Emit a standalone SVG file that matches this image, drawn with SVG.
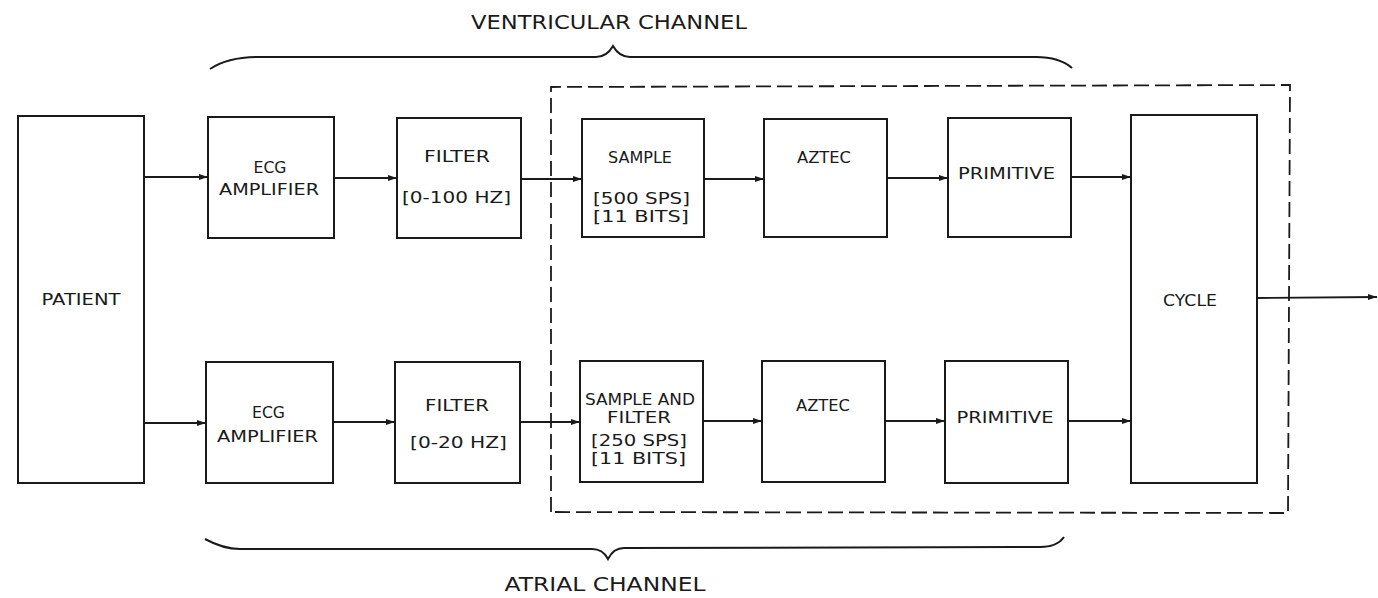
<svg xmlns="http://www.w3.org/2000/svg" width="1378" height="598" viewBox="0 0 1378 598">
<style>
.box{fill:none;stroke:#1a1a1a;stroke-width:2}
.t{font-family:"DejaVu Sans","Liberation Sans",sans-serif;font-size:15px;fill:#1a1a1a;text-anchor:middle}
.title{font-family:"DejaVu Sans","Liberation Sans",sans-serif;font-size:20px;fill:#1a1a1a;text-anchor:middle}
.c{fill:none;stroke:#1a1a1a;stroke-width:1.8}
.dash{fill:none;stroke:#1a1a1a;stroke-width:1.8;stroke-dasharray:15 6}
.brace{fill:none;stroke:#1a1a1a;stroke-width:2}
</style>
<defs>
<marker id="ah" markerWidth="10" markerHeight="8" refX="9" refY="4" orient="auto" markerUnits="userSpaceOnUse">
<path d="M0,1 L9,4 L0,7 Z" fill="#1a1a1a"/>
</marker>
</defs>
<rect width="1378" height="598" fill="#ffffff"/>

<g id="labels">
<text class="title" x="609" y="29" textLength="276" lengthAdjust="spacingAndGlyphs">VENTRICULAR CHANNEL</text>
<text class="title" x="605" y="591" textLength="201" lengthAdjust="spacingAndGlyphs">ATRIAL CHANNEL</text>
</g>

<g id="braces">
<path class="brace" d="M210,69 C222,61 236,57 258,57 L596,57 C604,57 609,53 613,46 C617,53 622,57 630,57 L1036,57 C1052,57 1064,61 1072,68"/>
<path class="brace" d="M205,539 C216,545 226,549 240,549 L592,549 C600,549 605,553 608,559 C611,553 616,548 624,548 L1040,547 C1052,547 1060,543 1064,537"/>
</g>

<g id="dashed-region">
<path class="dash" d="M551,512 L551,87 L1290,85 L1288,513 Z"/>
</g>

<g id="patient">
<rect class="box" x="18" y="116" width="126" height="367"/>
<text class="t" x="81" y="305" textLength="79" lengthAdjust="spacingAndGlyphs">PATIENT</text>
</g>

<g id="ecg-amp-v">
<rect class="box" x="208" y="117" width="126" height="121"/>
<text class="t" x="270" y="172.5" textLength="33" lengthAdjust="spacingAndGlyphs">ECG</text>
<text class="t" x="269" y="195" textLength="100" lengthAdjust="spacingAndGlyphs">AMPLIFIER</text>
</g>

<g id="filter-v">
<rect class="box" x="397" y="118" width="124" height="120"/>
<text class="t" x="457" y="161.5" textLength="66" lengthAdjust="spacingAndGlyphs">FILTER</text>
<text class="t" x="456.5" y="203" textLength="109" lengthAdjust="spacingAndGlyphs">[0-100 HZ]</text>
</g>

<g id="sample-v">
<rect class="box" x="582" y="119" width="122" height="118"/>
<text class="t" x="640" y="162.5" textLength="64" lengthAdjust="spacingAndGlyphs">SAMPLE</text>
<text class="t" x="641.5" y="203.5" textLength="97" lengthAdjust="spacingAndGlyphs">[500 SPS]</text>
<text class="t" x="641" y="221.5" textLength="96" lengthAdjust="spacingAndGlyphs">[11 BITS]</text>
</g>

<g id="aztec-v">
<rect class="box" x="764" y="119" width="123" height="118"/>
<text class="t" x="824" y="162.5" textLength="54" lengthAdjust="spacingAndGlyphs">AZTEC</text>
</g>

<g id="primitive-v">
<rect class="box" x="948" y="118" width="123" height="119"/>
<text class="t" x="1006.5" y="178.5" textLength="97" lengthAdjust="spacingAndGlyphs">PRIMITIVE</text>
</g>

<g id="cycle">
<rect class="box" x="1131" y="115" width="126" height="368"/>
<text class="t" x="1190" y="305.5" textLength="54" lengthAdjust="spacingAndGlyphs">CYCLE</text>
</g>

<g id="ecg-amp-a">
<rect class="box" x="206" y="362" width="127" height="121"/>
<text class="t" x="268.5" y="417.5" textLength="33" lengthAdjust="spacingAndGlyphs">ECG</text>
<text class="t" x="267.5" y="441.5" textLength="101" lengthAdjust="spacingAndGlyphs">AMPLIFIER</text>
</g>

<g id="filter-a">
<rect class="box" x="395" y="362" width="125" height="121"/>
<text class="t" x="457" y="410.5" textLength="64" lengthAdjust="spacingAndGlyphs">FILTER</text>
<text class="t" x="458.5" y="447.5" textLength="97" lengthAdjust="spacingAndGlyphs">[0-20 HZ]</text>
</g>

<g id="sample-filter-a">
<rect class="box" x="580" y="361" width="123" height="121"/>
<text class="t" x="640" y="404.5" textLength="110" lengthAdjust="spacingAndGlyphs">SAMPLE AND</text>
<text class="t" x="639" y="422.5" textLength="64" lengthAdjust="spacingAndGlyphs">FILTER</text>
<text class="t" x="639" y="445.5" textLength="96" lengthAdjust="spacingAndGlyphs">[250 SPS]</text>
<text class="t" x="638.5" y="463.5" textLength="95" lengthAdjust="spacingAndGlyphs">[11 BITS]</text>
</g>

<g id="aztec-a">
<rect class="box" x="762" y="361" width="123" height="121"/>
<text class="t" x="823" y="410.5" textLength="54" lengthAdjust="spacingAndGlyphs">AZTEC</text>
</g>

<g id="primitive-a">
<rect class="box" x="945" y="361" width="123" height="122"/>
<text class="t" x="1005" y="422.5" textLength="97" lengthAdjust="spacingAndGlyphs">PRIMITIVE</text>
</g>

<g id="connectors">
<line class="c" x1="144" y1="177" x2="208" y2="177" marker-end="url(#ah)"/>
<line class="c" x1="334" y1="178" x2="397" y2="178" marker-end="url(#ah)"/>
<line class="c" x1="521" y1="179" x2="582" y2="179" marker-end="url(#ah)"/>
<line class="c" x1="704" y1="179" x2="764" y2="179" marker-end="url(#ah)"/>
<line class="c" x1="887" y1="178" x2="948" y2="178" marker-end="url(#ah)"/>
<line class="c" x1="1071" y1="177" x2="1131" y2="177" marker-end="url(#ah)"/>
<line class="c" x1="1257" y1="298" x2="1377" y2="297" marker-end="url(#ah)"/>
<line class="c" x1="144" y1="423" x2="206" y2="423" marker-end="url(#ah)"/>
<line class="c" x1="333" y1="422" x2="395" y2="422" marker-end="url(#ah)"/>
<line class="c" x1="520" y1="422" x2="580" y2="422" marker-end="url(#ah)"/>
<line class="c" x1="703" y1="421" x2="762" y2="421" marker-end="url(#ah)"/>
<line class="c" x1="885" y1="421" x2="945" y2="421" marker-end="url(#ah)"/>
<line class="c" x1="1068" y1="421" x2="1131" y2="421" marker-end="url(#ah)"/>
</g>
</svg>
